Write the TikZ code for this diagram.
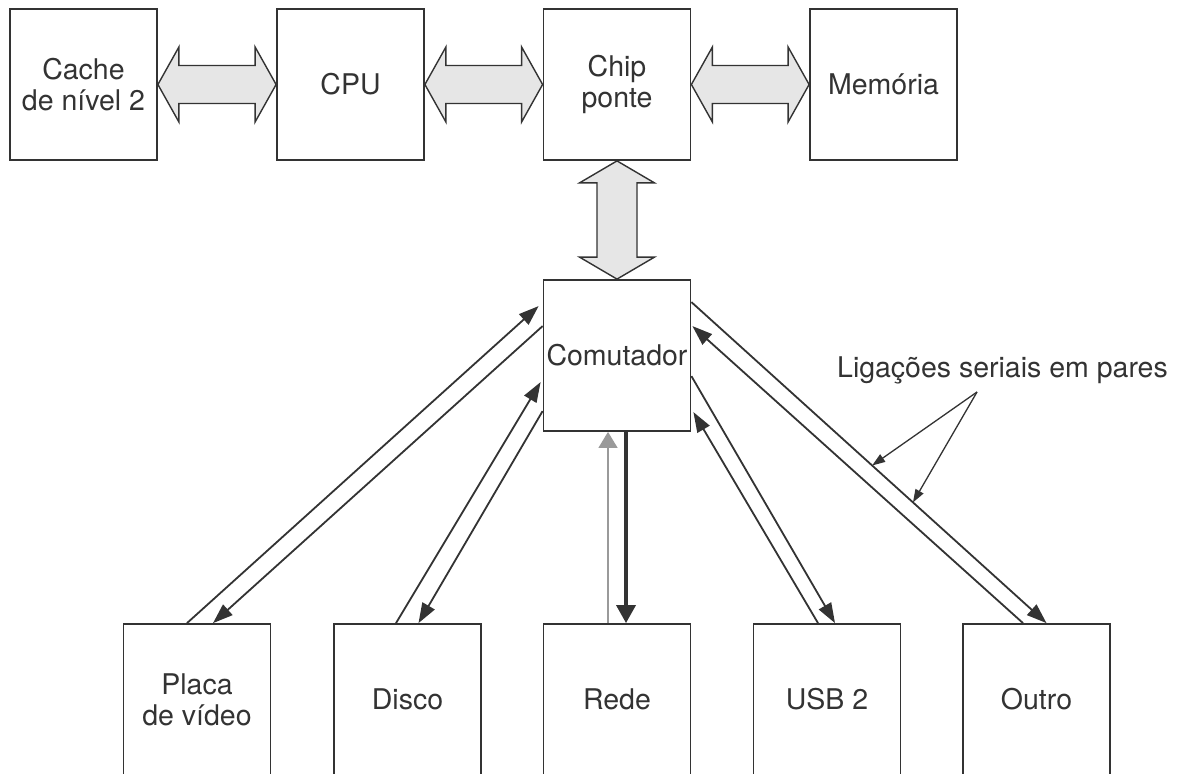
\documentclass[tikz,border=0pt]{standalone}
\usepackage{fontspec}
\setmainfont{TeX Gyre Heros}
\usetikzlibrary{arrows.meta,calc}
\definecolor{ink}{HTML}{333333}
\definecolor{busfill}{HTML}{E6E6E6}
\definecolor{thingray}{HTML}{9A9A9A}
\newcommand\hbusarrow[2]{%
  \path[bus] (#1.east) -- ++(21,-37.5) -- ++(0,18.5) -- ($(#2.west)+(-21,-19)$)
    -- ++(0,-18.5) -- (#2.west) -- ++(-21,37.5) -- ++(0,-18.5)
    -- ($(#1.east)+(21,19)$) -- ++(0,18.5) -- cycle;}
\begin{document}
\begin{tikzpicture}[x=1pt,y=-1pt,
  box/.style={draw=ink, line width=1.8pt, minimum width=147pt, minimum height=151pt,
    inner sep=0pt, align=center, text=ink, font=\fontsize{28.5}{31}\selectfont},
  bus/.style={draw=ink, line width=1.4pt, fill=busfill, line join=miter},
  link/.style={draw=ink, line width=1.8pt},
  tip/.style={-{Triangle[length=20pt,width=14pt]}},
  thinlink/.style={draw=thingray, line width=1.2pt, -{Triangle[length=16pt,width=19pt]}},
  thicklink/.style={draw=ink, line width=3.5pt, -{Triangle[length=18pt,width=19pt]}},
  pointer/.style={draw=ink, line width=1.3pt, -{Triangle[length=13pt,width=9pt]}},
  lbl/.style={text=ink, font=\fontsize{28.5}{31}\selectfont, inner sep=0pt}
]
\clip (0,0) rectangle (1182,773);
\fill[white] (0,0) rectangle (1182,773);

% boxes
\node[box] (cache) at (83.5,84.5) {Cache\\de nível 2};
\node[box] (cpu)   at (350.5,84.5) {CPU};
\node[box] (chip)  at (617,84.5) {Chip\\ponte};
\node[box] (mem)   at (883.5,84.5) {Memória};
\node[box] (com)   at (617,355.5) {Comutador};
\node[box] (placa) at (197,699.5) {Placa\\de vídeo};
\node[box] (disco) at (407.5,699.5) {Disco};
\node[box] (rede)  at (617,699.5) {Rede};
\node[box] (usb)   at (827,699.5) {USB 2};
\node[box] (outro) at (1036.5,699.5) {Outro};

% wide buses
\hbusarrow{cache}{cpu}
\hbusarrow{cpu}{chip}
\hbusarrow{chip}{mem}
\path[bus] (chip.south) -- ++(-37.5,22) -- ++(17.5,0) -- ($(com.north)+(-20,-22)$)
  -- ++(-17.5,0) -- (com.north) -- ++(37.5,-22) -- ++(-17.5,0)
  -- ($(chip.south)+(20,22)$) -- ++(17.5,0) -- cycle;

% serial links
\draw[link,tip] ($(placa.north)+(-10,0)$) -- ($(com.north west)+(-4,27)$);
\draw[link,tip] ($(com.north west)+(0,47)$) -- ($(placa.north)+(16,0)$);
\draw[link,tip] ($(disco.north)+(-11.5,0)$) -- ($(com.north west)+(-2,103)$);
\draw[link,tip] ($(com.north west)+(0,132)$) -- ($(disco.north)+(11,0)$);
\draw[thinlink] ($(rede.north)+(-9,0)$) -- ($(com.south)+(-9,0)$);
\draw[thicklink] ($(com.south)+(9,0)$) -- ($(rede.north)+(9,0)$);
\draw[link,tip] ($(com.north east)+(0,97)$) -- ($(usb.north)+(8,0)$);
\draw[link,tip] ($(usb.north)+(-9,0)$) -- ($(com.north east)+(2,133)$);
\draw[link,tip] ($(com.north east)+(0,23)$) coordinate (o1a) -- ($(outro.north)+(10,0)$) coordinate (o1b);
\draw[link,tip] ($(outro.north)+(-13.5,0)$) -- ($(com.north east)+(1,47)$);

% annotation
\node[lbl, anchor=base west] (note) at (837,377) {Ligações seriais em pares};
\coordinate (apex) at (977,392);
\path (o1a) -- (o1b) coordinate[pos=0.509] (pt1) coordinate[pos=0.624] (pt2);
\draw[pointer] (apex) -- (pt1);
\draw[pointer] (apex) -- (pt2);
\end{tikzpicture}
\end{document}
